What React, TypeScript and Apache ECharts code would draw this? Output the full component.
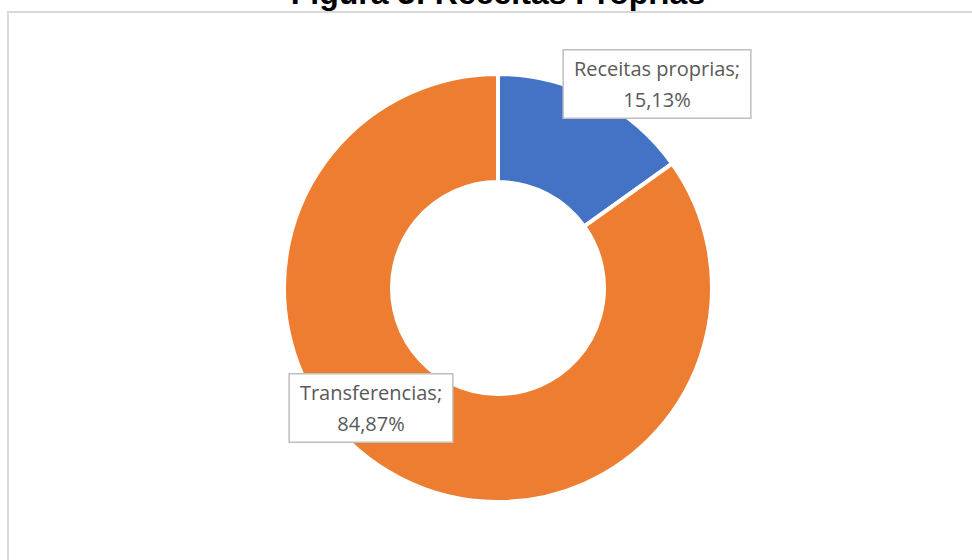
import React, { useEffect, useRef } from "react";
import * as echarts from "echarts";

const titleText = "Figura 3: Receitas Próprias";
const categories = ["Receitas proprias", "Transferencias"];
const values = [15.13, 84.87];
const colors = ["#4472C4", "#ED7D31"];

export default function App() {
  const ref = useRef<HTMLDivElement>(null);
  useEffect(() => {
    document.body.style.margin = "0";
    const chart = echarts.init(ref.current!, undefined, { renderer: "svg" });
    const labelPos = [
      { x: 657, y: 84 },
      { x: 371, y: 408 },
    ];
    chart.setOption({
      animation: false,
      backgroundColor: "#ffffff",
      graphic: [
        {
          type: "rect",
          z: -10,
          shape: { x: 8, y: 12, width: 990, height: 580 },
          style: { fill: "none", stroke: "#d9d9d9", lineWidth: 2 },
        },
        {
          type: "text",
          x: 498,
          y: 9,
          style: {
            text: titleText,
            fontSize: 32,
            fontWeight: "bold",
            fontFamily: "Liberation Sans, Arial, sans-serif",
            fill: "#000000",
            align: "center",
            verticalAlign: "bottom",
          },
        },
      ],
      series: [
        {
          type: "pie",
          radius: [106, 214],
          center: [498, 288],
          startAngle: 90,
          clockwise: true,
          avoidLabelOverlap: false,
          itemStyle: { borderColor: "#ffffff", borderWidth: 4 },
          labelLine: { show: false },
          label: {
            show: true,
            formatter: (p: any) => `${p.name};\n${p.value.toFixed(2).replace(".", ",")}%`,
            fontFamily: "Open Sans, sans-serif",
            fontSize: 20,
            lineHeight: 31,
            color: "#595959",
            align: "center",
            backgroundColor: "#ffffff",
            borderColor: "#bfbfbf",
            borderWidth: 1.5,
            padding: [3, 10, 2, 10],
          },
          labelLayout: (params: any) => ({
            x: labelPos[params.dataIndex].x,
            y: labelPos[params.dataIndex].y,
            align: "center",
            verticalAlign: "middle",
          }),
          emphasis: { disabled: true },
          data: categories.map((c, i) => ({
            name: c,
            value: values[i],
            itemStyle: { color: colors[i] },
          })),
        },
      ],
    });
    return () => chart.dispose();
  }, []);
  return (
    <div
      ref={ref}
      style={{ position: "absolute", left: 0, top: 0, width: 972, height: 560 }}
    />
  );
}
